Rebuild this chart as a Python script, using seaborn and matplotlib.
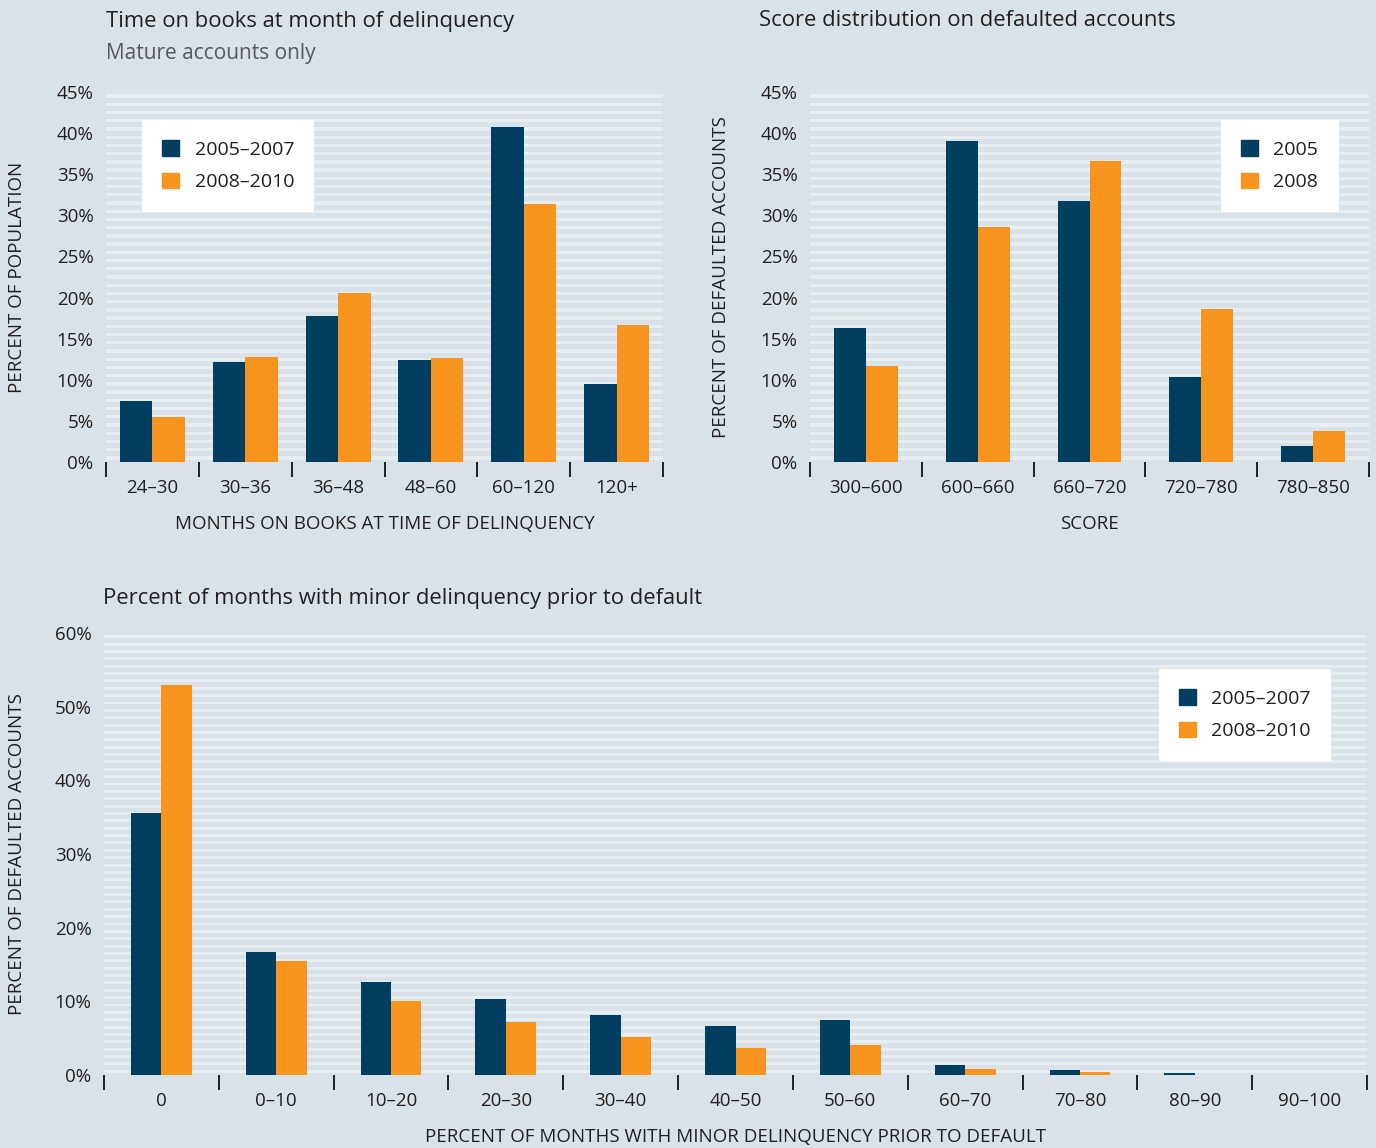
import matplotlib
matplotlib.use("Agg")
import matplotlib.pyplot as plt
import matplotlib.patches as mpatches
from matplotlib.ticker import FixedLocator, PercentFormatter
import pandas as pd
import seaborn as sns

# ---- data ----
tenure_cats = ["24–30", "30–36", "36–48", "48–60", "60–120", "120+"]
tenure_0507 = [7.4, 12.2, 17.8, 12.4, 40.8, 9.5]
tenure_0810 = [5.5, 12.8, 20.6, 12.7, 31.4, 16.7]
tenure_series = ["2005–2007", "2008–2010"]

score_cats = ["300–600", "600–660", "660–720", "720–780", "780–850"]
score_2005 = [16.3, 39.1, 31.8, 10.3, 1.9]
score_2008 = [11.7, 28.6, 36.6, 18.6, 3.8]
score_series = ["2005", "2008"]

minor_cats = ["0", "0–10", "10–20", "20–30", "30–40", "40–50",
              "50–60", "60–70", "70–80", "80–90", "90–100"]
minor_0507 = [35.5, 16.7, 12.6, 10.3, 8.1, 6.6, 7.5, 1.4, 0.7, 0.3, 0.0]
minor_0810 = [52.9, 15.5, 10.0, 7.2, 5.2, 3.7, 4.1, 0.8, 0.4, 0.0, 0.0]
minor_series = ["2005–2007", "2008–2010"]

# ---- style ----
NAVY = "#023e5f"
ORANGE = "#f7941e"
BG = "#d8e2e8"
STRIPE = "#e7eef2"
INK = "#231f20"
GREY = "#58595b"

sns.set_theme(style="white")
plt.rcParams["font.family"] = ["Open Sans", "DejaVu Sans"]
plt.rcParams["text.color"] = INK

W, H = 1376, 1148
fig = plt.figure(figsize=(W / 100, H / 100), dpi=100, facecolor=BG)


def make_axes(left, right, top, bottom):
    return fig.add_axes([left / W, 1 - bottom / H, (right - left) / W, (bottom - top) / H])


def long_frame(cats, series, a, b):
    return pd.DataFrame({
        "cat": cats + cats,
        "series": [series[0]] * len(cats) + [series[1]] * len(cats),
        "value": list(a) + list(b),
    })


def draw_panel(ax, df, cats, series, ymax, ystep, width, xlabel, ylabel):
    ax.set_facecolor(BG)
    for i in range(ymax):
        ax.axhspan(i + 0.3, i + 0.7, color=STRIPE, lw=0, zorder=0)
    sns.barplot(data=df, x="cat", y="value", hue="series", order=cats,
                hue_order=series, palette=[NAVY, ORANGE], width=width,
                saturation=1, legend=False, ax=ax, zorder=3,
                linewidth=0, edgecolor="none")
    n = len(cats)
    ax.set_xlim(-0.5, n - 0.5)
    ax.set_ylim(0, ymax)
    for s in ax.spines.values():
        s.set_visible(False)
    ax.set_yticks(range(0, ymax + 1, ystep))
    ax.yaxis.set_major_formatter(PercentFormatter(decimals=0))
    ax.tick_params(axis="y", left=False, length=0, pad=9, labelsize=13.5, labelcolor=INK)
    ax.set_xticks(range(n))
    ax.set_xticklabels(cats)
    ax.xaxis.set_minor_locator(FixedLocator([i - 0.5 for i in range(n + 1)]))
    ax.tick_params(axis="x", which="major", bottom=True, length=0, pad=12.5,
                   labelsize=13.5, labelcolor=INK)
    ax.tick_params(axis="x", which="minor", bottom=True, length=11, width=1.4,
                   color=INK, direction="out")
    ax.set_xlabel(xlabel, fontsize=13.5, color=INK, labelpad=13)
    ax.set_ylabel(ylabel, fontsize=13.5, color=INK)
    ax.grid(False)


def add_legend(ax, series, x, y):
    handles = [mpatches.Patch(color=c, label=s) for c, s in zip([NAVY, ORANGE], series)]
    leg = ax.legend(handles=handles, loc="upper left", bbox_to_anchor=(x / W, 1 - y / H),
                    bbox_transform=fig.transFigure, borderaxespad=0, frameon=True,
                    fancybox=False, framealpha=1, edgecolor="none", facecolor="white",
                    fontsize=14, handlelength=0.85, handleheight=0.85, handletextpad=0.8,
                    labelspacing=0.72, borderpad=1.05)
    for t in leg.get_texts():
        t.set_color(INK)
    leg.set_zorder(10)


# ---- top left: time on books ----
ax1 = make_axes(106, 663, 92, 462)
draw_panel(ax1, long_frame(tenure_cats, tenure_series, tenure_0507, tenure_0810),
           tenure_cats, tenure_series, 45, 5, 0.7,
           "MONTHS ON BOOKS AT TIME OF DELINQUENCY", "PERCENT OF POPULATION")
ax1.yaxis.set_label_coords(-80 / 557, 0.5)
add_legend(ax1, tenure_series, 142, 120)
fig.text(106 / W, 1 - 21 / H, "Time on books at month of delinquency",
         fontsize=15.8, va="center", ha="left", color=INK)
fig.text(106 / W, 1 - 53 / H, "Mature accounts only",
         fontsize=15, va="center", ha="left", color=GREY)

# ---- top right: score distribution ----
ax2 = make_axes(810, 1369, 92, 462)
draw_panel(ax2, long_frame(score_cats, score_series, score_2005, score_2008),
           score_cats, score_series, 45, 5, 0.57,
           "SCORE", "PERCENT OF DEFAULTED ACCOUNTS")
ax2.yaxis.set_label_coords(-80 / 559, 0.5)
add_legend(ax2, score_series, 1221, 120)
fig.text(759 / W, 1 - 21 / H, "Score distribution on defaulted accounts",
         fontsize=15.8, va="center", ha="left", color=INK)

# ---- bottom: minor delinquency ----
ax3 = make_axes(104, 1367, 633, 1075)
draw_panel(ax3, long_frame(minor_cats, minor_series, minor_0507, minor_0810),
           minor_cats, minor_series, 60, 10, 0.53,
           "PERCENT OF MONTHS WITH MINOR DELINQUENCY PRIOR TO DEFAULT",
           "PERCENT OF DEFAULTED ACCOUNTS")
ax3.yaxis.set_label_coords(-78 / 1263, 0.5)
add_legend(ax3, minor_series, 1159, 669)
fig.text(103 / W, 1 - 598 / H, "Percent of months with minor delinquency prior to default",
         fontsize=15.8, va="center", ha="left", color=INK)

fig.savefig("out.png", dpi=100, facecolor=BG)
